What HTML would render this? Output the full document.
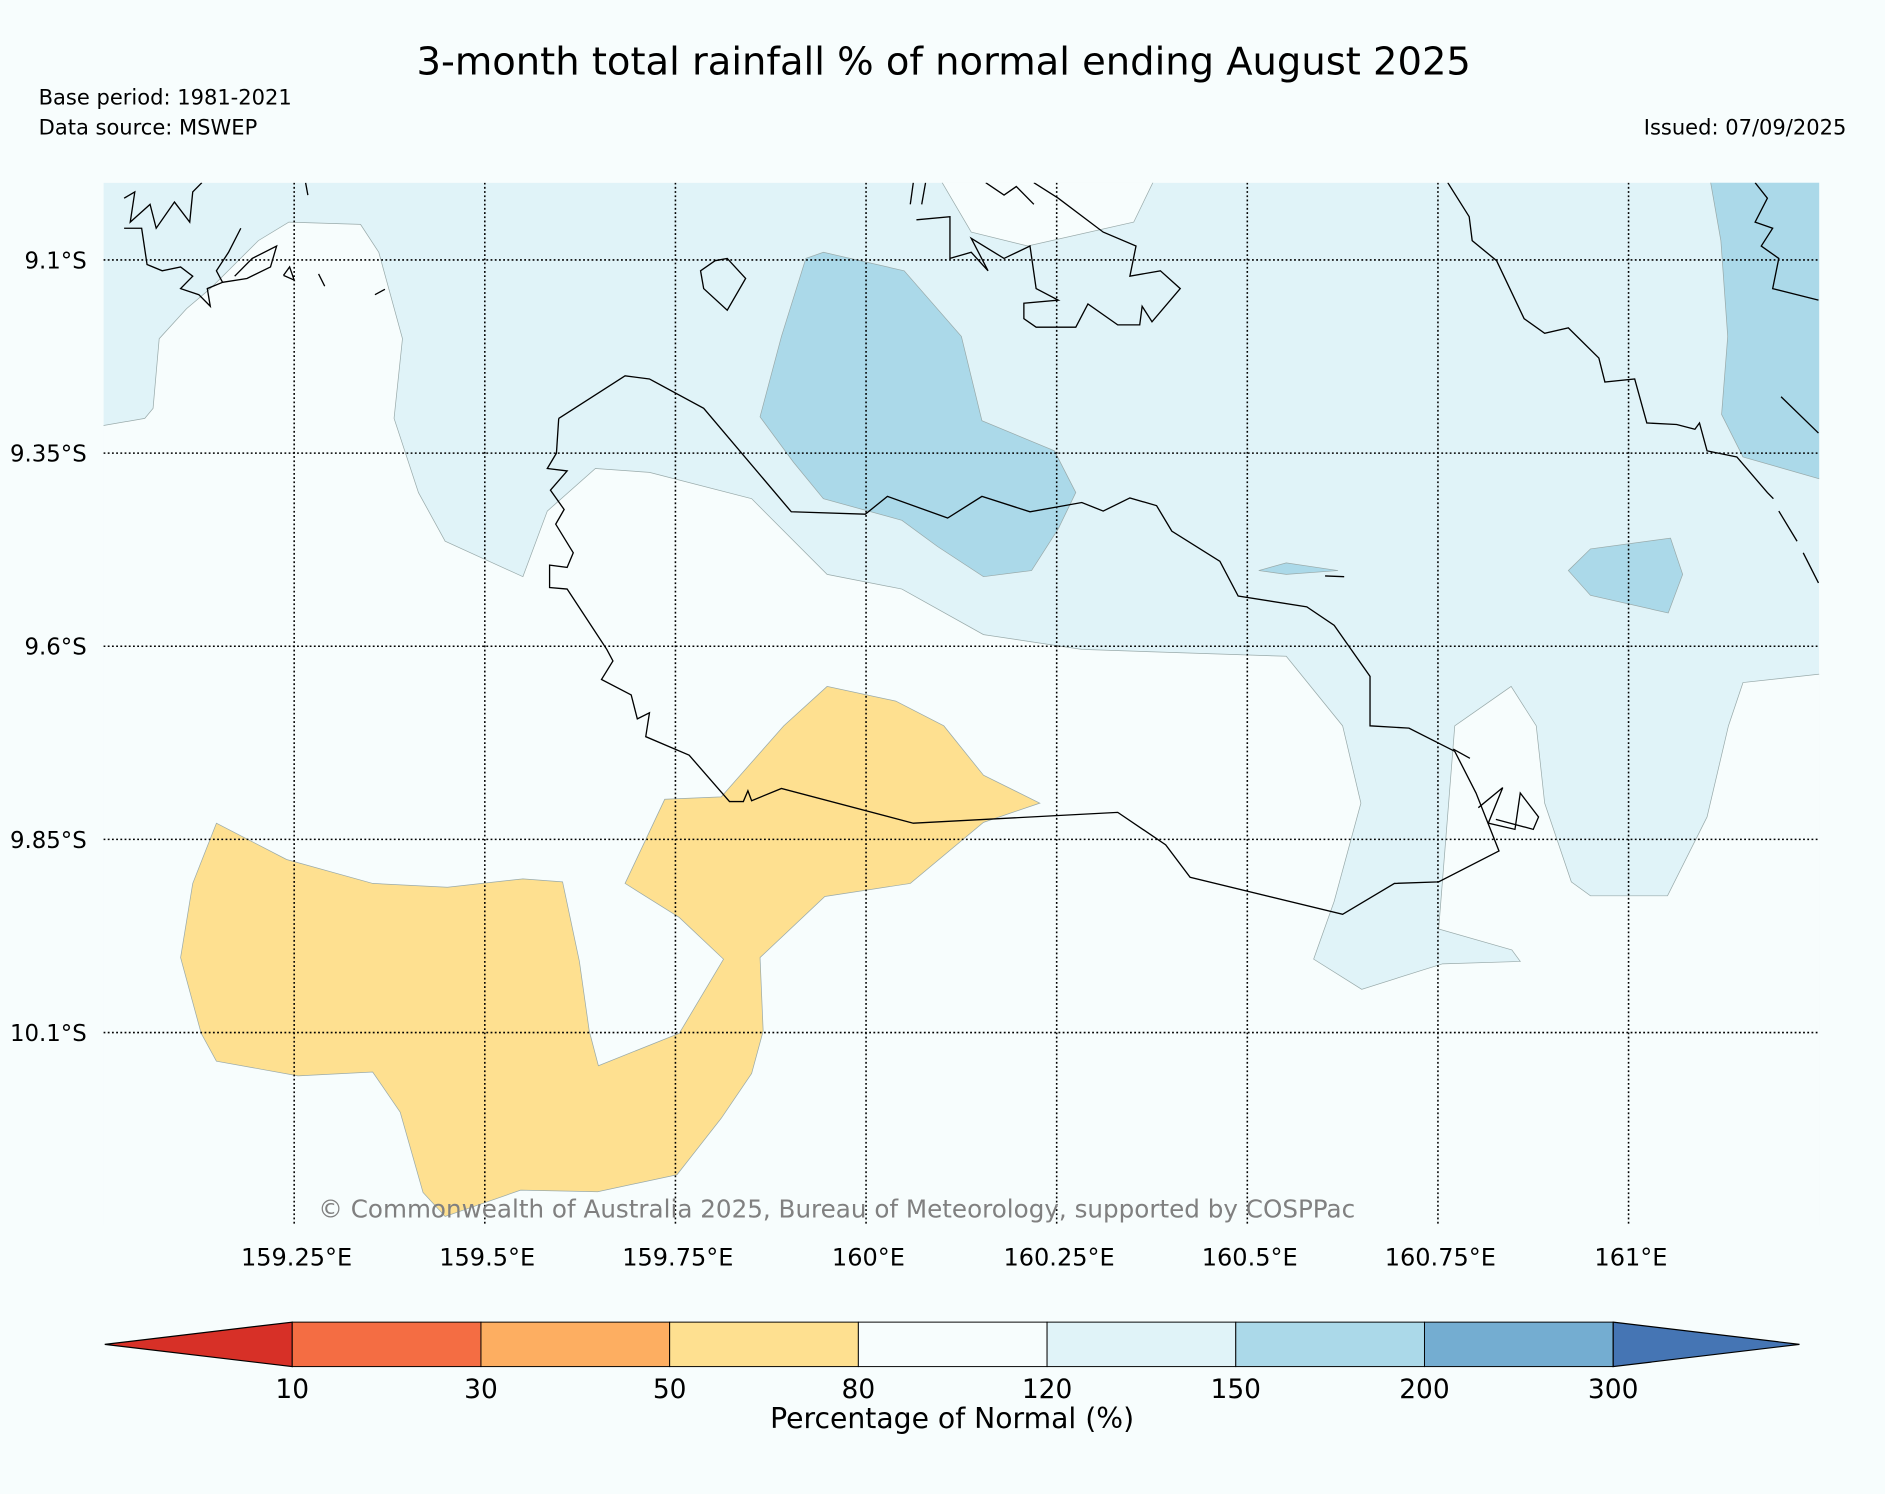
<!DOCTYPE html>
<html><head><meta charset="utf-8"><style>
html,body{margin:0;padding:0;background:#f7fdfd;}
svg{display:block;font-family:"DejaVu Sans","Liberation Sans",sans-serif;}
</style></head><body>
<svg id="chart" width="1885" height="1494" viewBox="0 0 1568 1243" xmlns="http://www.w3.org/2000/svg">
<defs><clipPath id="mapclip"><rect x="86" y="152" width="1427.4" height="868"/></clipPath></defs>
<rect width="1568" height="1243" fill="#f7fdfd"/>
<text x="785" y="62" font-size="32" text-anchor="middle">3-month total rainfall % of normal ending August 2025</text>
<text x="32" y="87" font-size="17.5">Base period: 1981-2021</text>
<text x="32" y="112" font-size="17.5">Data source: MSWEP</text>
<text x="1536" y="112" font-size="17.5" text-anchor="end">Issued: 07/09/2025</text>
<g id="map" clip-path="url(#mapclip)"></g>
<g id="labels"></g>
<g id="cbar"></g>
</svg>
<script>
const lonMin = 159.0, lonMax = 161.25, latMin = 9.0, latMax = 10.35;
const latTicks = [9.1, 9.35, 9.6, 9.85, 10.1];
const latTickLabels = ["9.1°S","9.35°S","9.6°S","9.85°S","10.1°S"];
const lonTicks = [159.25, 159.5, 159.75, 160.0, 160.25, 160.5, 160.75, 161.0];
const lonTickLabels = ["159.25°E","159.5°E","159.75°E","160°E","160.25°E","160.5°E","160.75°E","161°E"];
const cbarLevels = ["10","30","50","80","120","150","200","300"];
const cbarColors = ["#d73027","#f46d43","#fdae61","#fee090","#f7fdfd","#e0f3f8","#abd9e9","#74add1","#4575b4"];

const whiteRegion = [[-0.01,0.316],[0.054,0.305],[0.065,0.292],[0.073,0.202],[0.109,0.163],[0.140,0.137],[0.203,0.075],[0.243,0.051],[0.337,0.054],[0.361,0.090],[0.392,0.202],[0.381,0.305],[0.413,0.401],[0.448,0.464],[0.550,0.510],[0.582,0.425],[0.645,0.370],[0.716,0.375],[0.850,0.409],[0.949,0.507],[1.047,0.526],[1.154,0.585],[1.283,0.604],[1.551,0.613],[1.625,0.703],[1.649,0.803],[1.614,0.930],[1.587,1.005],[1.650,1.044],[1.756,1.011],[1.858,1.008],[1.847,0.993],[1.751,0.966],[1.772,0.703],[1.846,0.652],[1.879,0.703],[1.890,0.803],[1.925,0.905],[1.950,0.923],[2.051,0.923],[2.103,0.821],[2.131,0.703],[2.150,0.647],[2.260,0.635],[2.260,1.360],[-0.01,1.360]];
const whiteTop = [[1.094,-0.01],[1.138,0.064],[1.212,0.082],[1.351,0.051],[1.381,-0.01]];
const blueA = [[0.944,0.090],[1.050,0.114],[1.125,0.199],[1.152,0.308],[1.247,0.347],[1.275,0.401],[1.252,0.448],[1.217,0.502],[1.154,0.510],[1.094,0.471],[1.047,0.437],[0.944,0.409],[0.905,0.362],[0.861,0.303],[0.889,0.199],[0.921,0.098]];
const blueB = [[1.921,0.502],[1.950,0.474],[2.055,0.460],[2.071,0.507],[2.052,0.557],[1.950,0.534]];
const blueC = [[1.515,0.502],[1.551,0.492],[1.619,0.502],[1.551,0.507]];
const blueD = [[2.106,-0.01],[2.26,-0.01],[2.26,0.386],[2.150,0.355],[2.122,0.300],[2.130,0.199],[2.121,0.075]];
const yellowRegion = [[0.148,0.829],[0.240,0.876],[0.353,0.907],[0.451,0.912],[0.550,0.901],[0.602,0.905],[0.624,1.008],[0.637,1.098],[0.649,1.143],[0.755,1.101],[0.813,1.005],[0.755,0.951],[0.684,0.907],[0.736,0.798],[0.810,0.795],[0.892,0.703],[0.949,0.652],[1.039,0.671],[1.102,0.703],[1.154,0.767],[1.228,0.803],[1.154,0.828],[1.058,0.907],[0.946,0.924],[0.861,1.003],[0.865,1.098],[0.850,1.153],[0.810,1.211],[0.752,1.284],[0.648,1.306],[0.547,1.304],[0.448,1.338],[0.419,1.307],[0.389,1.203],[0.353,1.151],[0.255,1.156],[0.148,1.137],[0.128,1.101],[0.101,1.003],[0.117,0.907]];

const coastGuadalcanal = [[0.597,0.305],[0.684,0.250],[0.716,0.254],[0.787,0.292],[0.902,0.426],[0.999,0.429],[1.028,0.406],[1.107,0.434],[1.152,0.406],[1.215,0.426],[1.283,0.414],[1.311,0.425],[1.346,0.408],[1.381,0.418],[1.401,0.451],[1.464,0.490],[1.488,0.535],[1.578,0.549],[1.614,0.573],[1.661,0.639],[1.661,0.703],[1.712,0.706],[1.772,0.736],[1.800,0.790],[1.830,0.865],[1.751,0.905],[1.693,0.907],[1.625,0.947],[1.425,0.899],[1.393,0.857],[1.330,0.815],[1.062,0.829],[0.889,0.784],[0.850,0.800],[0.845,0.787],[0.839,0.801],[0.821,0.801],[0.768,0.741],[0.711,0.717],[0.716,0.686],[0.700,0.694],[0.692,0.663],[0.653,0.643],[0.668,0.619],[0.660,0.604],[0.608,0.526],[0.585,0.524],[0.585,0.495],[0.608,0.498],[0.616,0.479],[0.593,0.442],[0.604,0.423],[0.586,0.398],[0.608,0.373],[0.582,0.370],[0.594,0.350],[0.597,0.305]];
const coastSmall1 = [[1.803,0.809],[1.835,0.783],[1.816,0.829],[1.851,0.837],[1.858,0.790],[1.882,0.821],[1.875,0.837],[1.826,0.824]];
const coastDash1 = [[1.602,0.509],[1.627,0.510]];
const coastDash2 = [[1.770,0.733],[1.792,0.745]];
const coastMalaita = [[1.763,0.0],[1.791,0.044],[1.795,0.075],[1.827,0.101],[1.863,0.176],[1.890,0.195],[1.921,0.188],[1.961,0.227],[1.969,0.258],[2.008,0.254],[2.024,0.311],[2.063,0.313],[2.087,0.319],[2.093,0.311],[2.103,0.347],[2.142,0.355],[2.182,0.401],[2.190,0.409]];
const coastDash3 = [[2.197,0.425],[2.221,0.464]];
const coastDash4 = [[2.229,0.479],[2.249,0.518]];
const coastDash5 = [[2.200,0.277],[2.249,0.324]];
const coastRight = [[2.166,0.0],[2.182,0.020],[2.166,0.051],[2.189,0.059],[2.174,0.082],[2.197,0.098],[2.189,0.137],[2.249,0.152]];
const coastFlorida = [[1.066,0.048],[1.110,0.044],[1.110,0.098],[1.138,0.090],[1.160,0.114],[1.138,0.072],[1.181,0.098],[1.215,0.082],[1.223,0.137],[1.252,0.152],[1.207,0.156],[1.207,0.176],[1.223,0.187],[1.275,0.187],[1.291,0.157],[1.330,0.184],[1.359,0.184],[1.362,0.160],[1.375,0.180],[1.412,0.137],[1.386,0.114],[1.346,0.121],[1.354,0.082],[1.311,0.064],[1.252,0.020],[1.220,0.0]];
const coastFlorida2 = [[1.058,0.028],[1.062,0.0]];
const coastFlorida3 = [[1.078,0.0],[1.073,0.028]];
const coastFlorida4 = [[1.157,0.0],[1.181,0.016],[1.197,0.005],[1.220,0.028]];
const coastIsland = [[0.802,0.101],[0.818,0.098],[0.842,0.124],[0.818,0.165],[0.787,0.137],[0.783,0.114],[0.802,0.101]];
const coastTL1 = [[0.027,0.020],[0.041,0.012],[0.035,0.051],[0.061,0.028],[0.069,0.059],[0.093,0.025],[0.113,0.051],[0.117,0.012],[0.129,0.0]];
const coastTL2 = [[0.027,0.059],[0.050,0.059],[0.057,0.106],[0.077,0.114],[0.101,0.109],[0.117,0.121],[0.101,0.137],[0.125,0.145],[0.140,0.160],[0.136,0.137],[0.156,0.129],[0.148,0.114],[0.164,0.090],[0.180,0.059]];
const coastTL3 = [[0.156,0.129],[0.188,0.124],[0.219,0.109],[0.227,0.082],[0.195,0.098],[0.172,0.121]];
const coastTL4 = [[0.282,0.118],[0.290,0.134]];
const coastTL5 = [[0.356,0.145],[0.369,0.138]];
const coastTL6 = [[0.236,0.120],[0.244,0.109],[0.250,0.126],[0.236,0.120]];
const coastTL7 = [[0.265,0.0],[0.268,0.016]];

const NS = "http://www.w3.org/2000/svg";
const X0 = 86, Y0 = 152, PX_LON = 634.4, PX_LAT = 642.8;
function xLon(lon){ return X0 + (lon - lonMin) * PX_LON; }
function yLat(lat){ return Y0 + (lat - latMin) * PX_LAT; }
function pts(arr){ return arr.map(p => xLon(lonMin + p[0]).toFixed(1) + "," + yLat(latMin + p[1]).toFixed(1)).join(" "); }
const map = document.getElementById("map");
const labels = document.getElementById("labels");
const mx0 = xLon(lonMin), mx1 = xLon(lonMax), my0 = yLat(latMin), my1 = yLat(latMax);

function mk(tag, attrs, parent){ const e = document.createElementNS(NS, tag); for (const k in attrs) e.setAttribute(k, attrs[k]); (parent||map).appendChild(e); return e; }

let r = mk("rect", {x:mx0, y:my0, width:mx1-mx0, height:my1-my0, fill:"#e0f3f8"});



function region(arr, fill, name){
  const p = mk("polygon", {points: pts(arr), fill: fill, stroke: "#9aa", "stroke-width": 0.6});
  
  
}
region(whiteRegion, "#f7fdfd", "region-80-120");
region(whiteTop, "#f7fdfd", "region-80-120-north");
region(blueA, "#abd9e9", "region-150-200-a");
region(blueB, "#abd9e9", "region-150-200-b");
region(blueC, "#abd9e9", "region-150-200-c");
region(blueD, "#abd9e9", "region-150-200-d");
region(yellowRegion, "#fee090", "region-50-80");

function coast(arr, name){
  const l = mk("polyline", {points: pts(arr), fill: "none", stroke: "#000", "stroke-width": 1.1});
  
  
}
coast(coastGuadalcanal, "coastline-guadalcanal");
coast(coastSmall1, "coastline-islet");
coast(coastDash1, "coastline-fragment");
coast(coastDash2, "coastline-fragment");
coast(coastMalaita, "coastline-malaita");
coast(coastDash3, "coastline-fragment");
coast(coastDash4, "coastline-fragment");
coast(coastDash5, "coastline-fragment");
coast(coastRight, "coastline-malaita-north");
coast(coastFlorida, "coastline-florida-islands");
coast(coastFlorida2, "coastline-fragment");
coast(coastFlorida3, "coastline-fragment");
coast(coastFlorida4, "coastline-fragment");
coast(coastIsland, "coastline-savo-island");
coast(coastTL1, "coastline-northwest");
coast(coastTL2, "coastline-northwest");
coast(coastTL3, "coastline-northwest");
coast(coastTL4, "coastline-fragment");
coast(coastTL5, "coastline-fragment");
coast(coastTL6, "coastline-fragment");
coast(coastTL7, "coastline-fragment");

latTicks.forEach((lat, i) => {
  const y = yLat(lat);
  const g = mk("line", {x1:mx0, x2:mx1, y1:y, y2:y, stroke:"#000", "stroke-width":1.3, "stroke-dasharray":"1.5,2"});
  
  
  const t = mk("text", {x:72, y:y+7, "font-size":19, "text-anchor":"end"}, labels);
  t.textContent = latTickLabels[i];
  
  
});
lonTicks.forEach((lon, i) => {
  const x = xLon(lon);
  const g = mk("line", {x1:x, x2:x, y1:my0, y2:my1, stroke:"#000", "stroke-width":1.3, "stroke-dasharray":"1.5,2"});
  
  
  const t = mk("text", {x:x+2, y:1053, "font-size":20, "text-anchor":"middle"}, labels);
  t.textContent = lonTickLabels[i];
  
  
});
const cp = mk("text", {x:696, y:1013, "font-size":20.5, "text-anchor":"middle", fill:"#808080"}, labels);
cp.textContent = "© Commonwealth of Australia 2025, Bureau of Meteorology, supported by COSPPac";



const cb = document.getElementById("cbar");
const cbL = 87, cbR = 1497, cbX0 = 243, cbW = 157, cbY = 1100, cbH = 37;
function cbx(i){ return cbX0 + i * cbW; }
const tipL = mk("polygon", {points: `${cbL},${cbY+cbH/2} ${cbx(0)},${cbY} ${cbx(0)},${cbY+cbH}`, fill: cbarColors[0], stroke:"#000", "stroke-width":1}, cb);


for (let i = 0; i < cbarLevels.length - 1; i++) {
  const s = mk("rect", {x:cbx(i), y:cbY, width:cbW, height:cbH, fill:cbarColors[i+1], stroke:"#000", "stroke-width":0.8}, cb);
  
  
}
const last = cbx(cbarLevels.length - 1);
const tipR = mk("polygon", {points: `${last},${cbY} ${cbR},${cbY+cbH/2} ${last},${cbY+cbH}`, fill: cbarColors[cbarColors.length-1], stroke:"#000", "stroke-width":1}, cb);


cbarLevels.forEach((lv, i) => {
  const t = mk("text", {x:cbx(i), y:1163, "font-size":22, "text-anchor":"middle"}, cb);
  t.textContent = lv;
  
  
});
const ct = mk("text", {x:792, y:1188, "font-size":23.5, "text-anchor":"middle"}, cb);
ct.textContent = "Percentage of Normal (%)";


</script>
</body></html>
